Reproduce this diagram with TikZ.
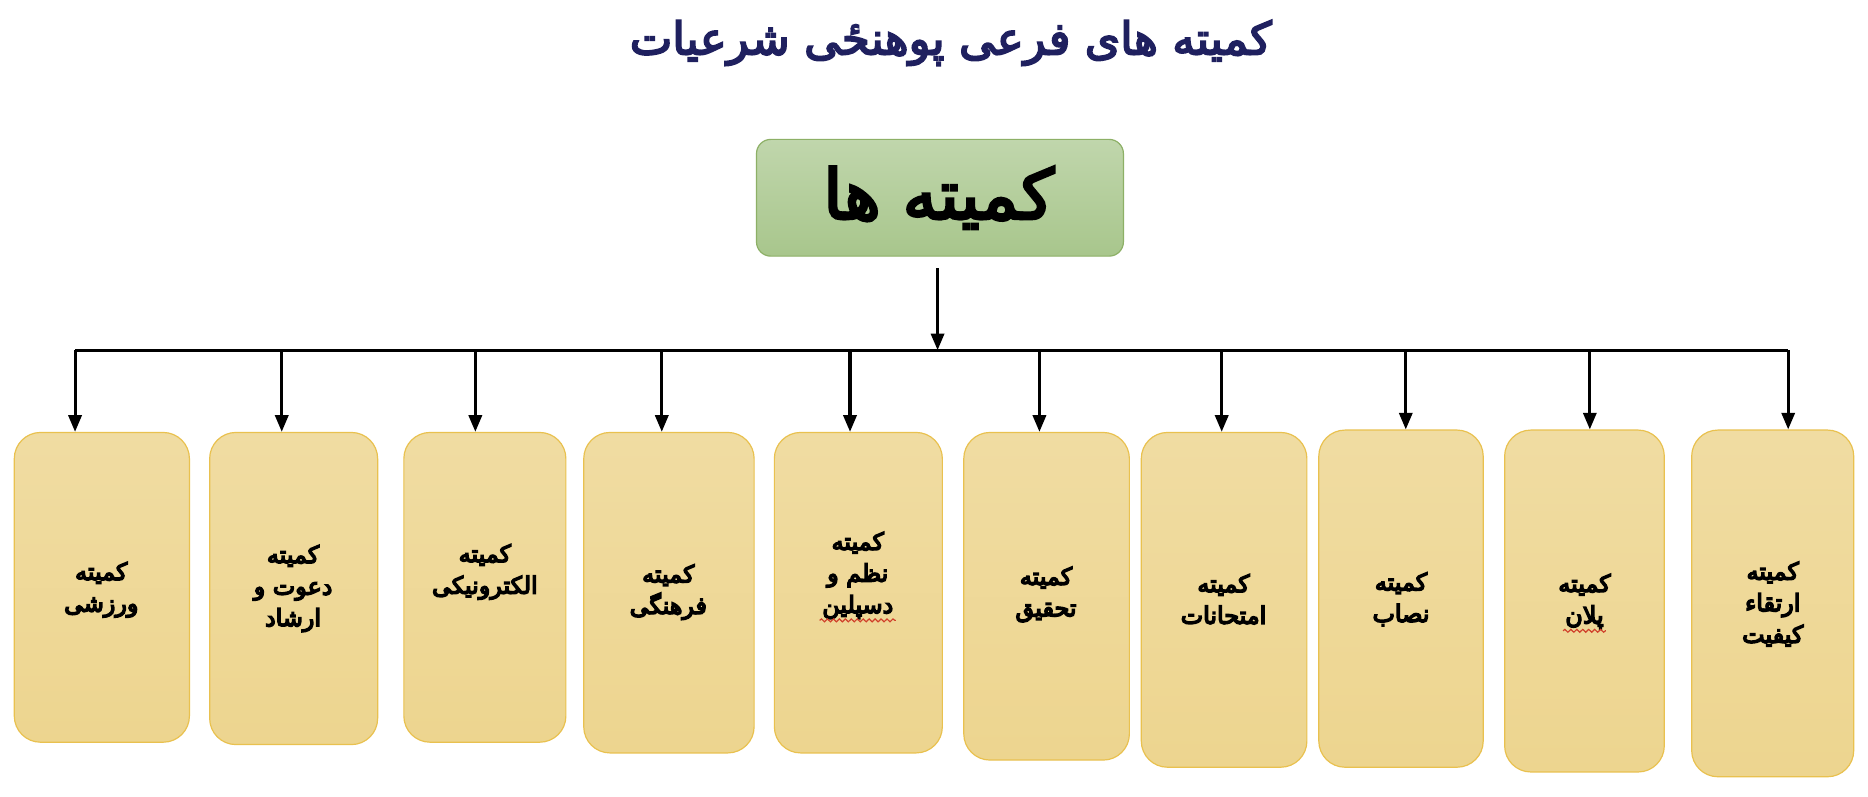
\documentclass[tikz,border=0pt]{standalone}
\usepackage{fontspec}
\usetikzlibrary{arrows.meta,decorations.pathmorphing}
\TeXXeTstate=1
\newfontfamily\arabicfont[Script=Arabic,BoldFont={DejaVu Sans},BoldFeatures={FakeBold=4}]{DejaVu Sans}
\newfontfamily\arabicheavy[Script=Arabic,BoldFont={DejaVu Sans},BoldFeatures={FakeBold=6}]{DejaVu Sans}
\newcommand\rtltext[1]{\beginR #1\endR}
\definecolor{boxtop}{HTML}{F0DCA2}
\definecolor{boxbot}{HTML}{EDD58F}
\definecolor{boxline}{HTML}{E9C14F}
\definecolor{greentop}{HTML}{C0D6AC}
\definecolor{greenbot}{HTML}{A8C68C}
\definecolor{greenline}{HTML}{8DB066}
\definecolor{navy}{HTML}{1F205F}
\definecolor{spellred}{HTML}{D0402A}
\tikzset{
  sub/.style={draw=boxline, line width=1pt, rounded corners=22pt, top color=boxtop, bottom color=boxbot, inner sep=0pt},
  subtext/.style={inner sep=0pt, align=center, font=\arabicheavy\bfseries\fontsize{20}{26.5}\selectfont},
  mainbox/.style={draw=greenline, line width=1pt, rounded corners=12pt, top color=greentop, bottom color=greenbot, inner sep=0pt},
  maintext/.style={inner sep=0pt, font=\arabicfont\bfseries\fontsize{58}{64}\selectfont},
  titlestyle/.style={inner sep=0pt, text=navy, font=\arabicfont\bfseries\fontsize{38}{42}\selectfont},
  arr/.style={line width=2.6pt, -{Triangle[length=14pt,width=11pt]}},
  bus/.style={line width=2.8pt},
  spell/.style={draw=spellred, line width=1pt, decorate, decoration={snake, amplitude=1.2pt, segment length=5pt}}
}
\begin{document}
\begin{tikzpicture}[x=1pt,y=-1pt]
\useasboundingbox[fill=white] (0,0) rectangle (1568,668.3);
\node[titlestyle] (title) at (798,36) {\rtltext{کمیته های فرعی پوهنځی شرعیات}};
\node[mainbox, minimum width=308pt, minimum height=98pt] (main) at (789,166) {};
\node[maintext] (maint) at (788,166) {\rtltext{کمیته ها}};

\node[sub, minimum width=147pt, minimum height=260pt] (c1) at (85.5,493) {};
\node[sub, minimum width=141pt, minimum height=262pt] (c2) at (246.5,494) {};
\node[sub, minimum width=136pt, minimum height=260pt] (c3) at (407,493) {};
\node[sub, minimum width=143pt, minimum height=269pt] (c4) at (561.5,497.5) {};
\node[sub, minimum width=141pt, minimum height=269pt] (c5) at (720.5,497.5) {};
\node[sub, minimum width=139pt, minimum height=275pt] (c6) at (878.5,500.5) {};
\node[sub, minimum width=139pt, minimum height=281pt] (c7) at (1027.5,503.5) {};
\node[sub, minimum width=138pt, minimum height=283pt] (c8) at (1176,502.5) {};
\node[sub, minimum width=134pt, minimum height=287pt] (c9) at (1330,504.5) {};
\node[sub, minimum width=136pt, minimum height=291pt] (c10) at (1488,506.5) {};

\node[subtext] (t1) at (85,495) {\rtltext{کمیته}\\\rtltext{ورزشی}};
\node[subtext] (t2) at (246,494) {\rtltext{کمیته}\\\rtltext{دعوت و}\\\rtltext{ارشاد}};
\node[subtext] (t3) at (407,480) {\rtltext{کمیته}\\\rtltext{الکترونیکی}};
\node[subtext] (t4) at (561,497) {\rtltext{کمیته}\\\rtltext{فرهنگی}};
\node[subtext] (t5) at (720,483) {\rtltext{کمیته}\\\rtltext{نظم و}\\\rtltext{دسپلین}};
\node[subtext] (t6) at (878,499) {\rtltext{کمیته}\\\rtltext{تحقیق}};
\node[subtext] (t7) at (1027,503) {\rtltext{کمیته}\\\rtltext{امتحانات}};
\node[subtext] (t8) at (1176,503) {\rtltext{کمیته}\\\rtltext{نصاب}};
\node[subtext] (t9) at (1330,505) {\rtltext{کمیته}\\\rtltext{پلان}};
\node[subtext] (t10) at (1488,507) {\rtltext{کمیته}\\\rtltext{ارتقاء}\\\rtltext{کیفیت}};

\coordinate (mtop) at (787,225);
\coordinate (hub) at (787,294);
\coordinate (b1) at (63,294);
\coordinate (b2) at (236.5,294);
\coordinate (b3) at (399,294);
\coordinate (b4) at (555.5,294);
\coordinate (b5) at (713.5,294);
\coordinate (b6) at (872.5,294);
\coordinate (b7) at (1025.5,294);
\coordinate (b8) at (1180,294);
\coordinate (b9) at (1334.5,294);
\coordinate (b10) at (1501,294);

\draw[arr] (mtop) -- (hub);
\draw[bus] (b1) -- (b10);
\foreach \i in {1,...,10}{
  \draw[arr] (b\i) -- (b\i |- c\i.north);
}
\draw[spell] ([xshift=-32pt,yshift=-1pt]t5.south) -- ([xshift=32pt,yshift=-1pt]t5.south);
\draw[spell] ([xshift=-18pt,yshift=-1pt]t9.south) -- ([xshift=18pt,yshift=-1pt]t9.south);
\end{tikzpicture}
\end{document}
